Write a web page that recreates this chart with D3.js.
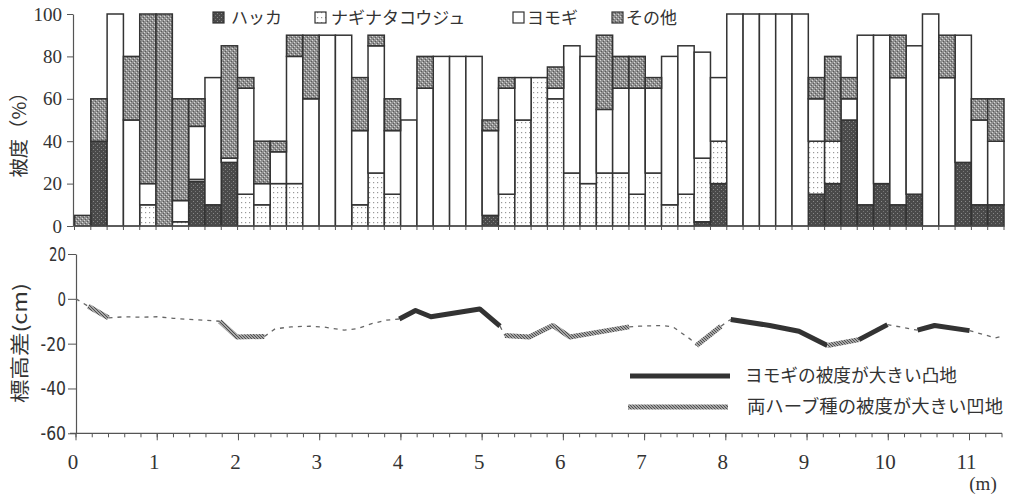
<!DOCTYPE html>
<html>
<head>
<meta charset="utf-8">
<script src="https://cdn.jsdelivr.net/npm/d3@7"></script>
<style>
  html, body { margin: 0; padding: 0; background: #fff; }
  svg { display: block; }
  .jp { font-family: "Noto Sans CJK JP", "Noto Sans", sans-serif; }
  .num { font-family: "Liberation Serif", "DejaVu Serif", serif; }
</style>
</head>
<body>
<svg id="chart" width="1009" height="497"></svg>
<script>
// ---- cover data: one bar per 0.2 m segment ----
const categories = ["0.0","0.2","0.4","0.6","0.8","1.0","1.2","1.4","1.6","1.8",
  "2.0","2.2","2.4","2.6","2.8","3.0","3.2","3.4","3.6","3.8",
  "4.0","4.2","4.4","4.6","4.8","5.0","5.2","5.4","5.6","5.8",
  "6.0","6.2","6.4","6.6","6.8","7.0","7.2","7.4","7.6","7.8",
  "8.0","8.2","8.4","8.6","8.8","9.0","9.2","9.4","9.6","9.8",
  "10.0","10.2","10.4","10.6","10.8","11.0","11.2"];

const seriesNames = ["ハッカ", "ナギナタコウジュ", "ヨモギ", "その他"];

const hakka   = [0,40,0,0,0,0,0,21,10,30, 0,0,0,0,0,0,0,0,0,0, 0,0,0,0,0,5,0,0,0,0,
                 0,0,0,0,0,0,0,0,2,20, 0,0,0,0,0,15,20,50,10,20, 10,15,0,0,30,10,10];
const nagi    = [0,0,0,0,10,0,2,1,0,0, 15,10,20,20,0,0,0,10,25,15, 0,0,0,0,0,0,15,50,70,60,
                 25,20,25,25,15,25,10,15,30,20, 0,0,0,0,0,25,20,0,0,0, 0,0,0,0,0,0,0];
const yomogi  = [0,0,100,50,10,0,10,25,60,2, 50,10,15,60,60,90,90,35,60,30, 50,65,80,80,80,40,50,20,0,5,
                 60,60,30,40,50,40,70,70,50,30, 100,100,100,100,100,20,0,10,80,70, 60,70,100,70,60,40,30];
const other   = [5,20,0,30,80,100,48,13,0,53, 5,20,5,10,30,0,0,25,5,15, 0,15,0,0,0,5,5,0,0,10,
                 0,0,35,15,15,5,0,0,0,0, 0,0,0,0,0,10,40,10,0,0, 20,0,0,20,0,10,20];

const coverTicks = [0, 20, 40, 60, 80, 100];

// ---- relative elevation profile (m, cm) ----
// kind = line style of the stretch that starts at the point:
// "n" ordinary, "c" mugwort-dominated mound, "v" hollow dominated by both herbs
const elevX = [0, 0.15, 0.4, 0.6, 0.8, 1.0, 1.2, 1.4, 1.6, 1.77, 1.98, 2.32, 2.45, 2.65, 2.88,
               3.05, 3.3, 3.45, 3.65, 3.82, 3.98, 4.18, 4.37, 4.97, 5.22, 5.28, 5.58, 5.87, 6.08,
               6.81, 6.94, 7.22, 7.35, 7.57, 7.64, 7.94, 8.06, 8.54, 8.9, 9.25, 9.64, 9.99,
               10.36, 10.57, 11.0, 11.32, 11.4];
const elevY = [0, -3.3, -8.5, -8, -8.2, -8, -8.7, -9.2, -9.6, -10, -17, -16.8, -13.4, -12.5, -12.2,
               -12.6, -14, -13.4, -11, -9.5, -9, -5.2, -8, -4.5, -12.2, -16.4, -17, -11.9, -17,
               -12.5, -12.2, -11.9, -12.5, -18.2, -20.8, -12.2, -9.2, -11.9, -14.5, -20.8, -18.2, -11.5,
               -14, -11.9, -14.2, -17.4, -16.7];
const elevKind = ["n","v","n","n","n","n","n","n","n","v","v","n","n","n","n",
                  "n","n","n","n","n","c","c","c","c","n","v","v","v","v",
                  "n","n","n","n","n","v","n","c","c","c","v","c","n",
                  "c","c","n","n",""];

const elevTicks = [20, 0, -20, -40, -60];
const distTicks = [0,1,2,3,4,5,6,7,8,9,10,11];

const legendProfile = ["ヨモギの被度が大きい凸地", "両ハーブ種の被度が大きい凹地"];

// ---- drawing ----
const svg = d3.select("#chart");
const ink = "#333";

// fill patterns
const defs = svg.append("defs");
const pHakka = defs.append("pattern").attr("id", "pHakka")
  .attr("patternUnits", "userSpaceOnUse").attr("width", 4).attr("height", 4);
pHakka.append("rect").attr("width", 4).attr("height", 4).attr("fill", "#4a4a4a");
pHakka.append("rect").attr("x", 1).attr("y", 1).attr("width", 1).attr("height", 1).attr("fill", "#8a8a8a");
pHakka.append("rect").attr("x", 3).attr("y", 3).attr("width", 1).attr("height", 1).attr("fill", "#777");

const pOther = defs.append("pattern").attr("id", "pOther")
  .attr("patternUnits", "userSpaceOnUse").attr("width", 4).attr("height", 4);
pOther.append("rect").attr("width", 4).attr("height", 4).attr("fill", "#909090");
pOther.append("rect").attr("x", 0).attr("y", 0).attr("width", 1).attr("height", 1).attr("fill", "#d6d6d6");
pOther.append("rect").attr("x", 2).attr("y", 2).attr("width", 1).attr("height", 1).attr("fill", "#d6d6d6");
pOther.append("rect").attr("x", 1).attr("y", 3).attr("width", 1).attr("height", 1).attr("fill", "#5a5a5a");
pOther.append("rect").attr("x", 3).attr("y", 1).attr("width", 1).attr("height", 1).attr("fill", "#5a5a5a");

const pNagi = defs.append("pattern").attr("id", "pNagi")
  .attr("patternUnits", "userSpaceOnUse").attr("width", 4).attr("height", 5);
pNagi.append("rect").attr("width", 4).attr("height", 5).attr("fill", "#fff");
pNagi.append("rect").attr("x", 1).attr("y", 2).attr("width", 1.2).attr("height", 1.2).attr("fill", "#999");

const pHatch = defs.append("pattern").attr("id", "pHatch")
  .attr("patternUnits", "userSpaceOnUse").attr("width", 3).attr("height", 3);
pHatch.append("rect").attr("width", 3).attr("height", 3).attr("fill", "#d0d0d0");
pHatch.append("path").attr("d", "M-1,-1 L4,4 M-1,2 L1,4 M2,-1 L4,1")
  .attr("stroke", "#4a4a4a").attr("stroke-width", 1.2);

const fills = ["url(#pHakka)", "url(#pNagi)", "#fff", "url(#pOther)"];

// ===== top: stacked cover bars =====
const xBand = d3.scaleBand().domain(categories).range([74.5, 1004]).padding(0);
const yCover = d3.scaleLinear().domain([0, 100]).range([226, 14]);

const rows = categories.map((c, i) => ({
  cat: c, h: hakka[i], n: nagi[i], y: yomogi[i], o: other[i]
}));
const stack = d3.stack().keys(["h", "n", "y", "o"]);
const layers = stack(rows);

svg.append("g").selectAll("g").data(layers).join("g")
  .attr("fill", (d, i) => fills[i])
  .selectAll("rect")
  .data(d => d.filter(s => s[1] - s[0] > 0))
  .join("rect")
  .attr("x", d => xBand(d.data.cat))
  .attr("width", xBand.bandwidth())
  .attr("y", d => yCover(d[1]))
  .attr("height", d => yCover(d[0]) - yCover(d[1]))
  .attr("stroke", ink).attr("stroke-width", 1.5);

// top axes
const gTopY = svg.append("g").attr("transform", "translate(73,0)")
  .call(d3.axisLeft(yCover).tickValues(coverTicks).tickSize(6).tickPadding(5).tickSizeOuter(0));
gTopY.select(".domain").attr("stroke", "#555").attr("stroke-width", 1.2);
gTopY.selectAll(".tick line").attr("stroke", "#555");
gTopY.selectAll("text").attr("class", "num").attr("font-size", 19).attr("fill", "#333");

svg.append("line").attr("x1", 73).attr("x2", 1004).attr("y1", 226).attr("y2", 226)
  .attr("stroke", "#555").attr("stroke-width", 1.2);
svg.append("g").selectAll("line")
  .data(categories.concat(["end"]))
  .join("line")
  .attr("x1", d => d === "end" ? 1004 : xBand(d))
  .attr("x2", d => d === "end" ? 1004 : xBand(d))
  .attr("y1", 226).attr("y2", 230)
  .attr("stroke", "#555");

svg.append("text").attr("class", "jp")
  .attr("transform", "translate(26,130) rotate(-90)")
  .attr("text-anchor", "middle").attr("font-size", 19).attr("fill", "#333")
  .attr("textLength", 95).attr("lengthAdjust", "spacingAndGlyphs")
  .text("被度（%）");

// cover legend
const legendX = [213, 315, 513, 612];
const legendTextX = [231, 331, 527, 626];
const lg = svg.append("g");
seriesNames.forEach((name, i) => {
  lg.append("rect").attr("x", legendX[i]).attr("y", 12).attr("width", 11).attr("height", 11)
    .attr("fill", fills[i]).attr("stroke", ink).attr("stroke-width", 1.2);
  lg.append("text").attr("class", "jp").attr("x", legendTextX[i]).attr("y", 24)
    .attr("font-size", 17).attr("fill", "#333").text(name);
});

// ===== bottom: elevation profile =====
const xDist = d3.scaleLinear().domain([0, 11.4]).range([76, 1002]);
const yElev = d3.scaleLinear().domain([-60, 20]).range([433.3, 254]);

const gBotY = svg.append("g").attr("transform", "translate(76,0)")
  .call(d3.axisLeft(yElev).tickValues(elevTicks).tickSize(8).tickPadding(2).tickSizeOuter(0)
    .tickFormat(d => d < 0 ? "-" + Math.abs(d) : d));
gBotY.select(".domain").attr("stroke", "#555").attr("stroke-width", 1.2);
gBotY.selectAll(".tick line").attr("stroke", "#555");
gBotY.selectAll("text")
  .attr("font-family", "'Liberation Sans Narrow', 'DejaVu Sans Condensed', 'Liberation Sans', sans-serif")
  .attr("font-size", 20).attr("fill", "#333")
  .attr("textLength", d => String(d < 0 ? "-" + Math.abs(d) : d).length * 8.5)
  .attr("lengthAdjust", "spacingAndGlyphs");

const gBotX = svg.append("g").attr("transform", "translate(0,433.3)");
gBotX.append("line").attr("x1", 70).attr("x2", 1002).attr("stroke", "#555").attr("stroke-width", 1.2);
const minorTicks = d3.range(0, 57 + 1).map(k => k * 0.2);
gBotX.selectAll("line.minor").data(minorTicks).join("line").attr("class", "minor")
  .attr("x1", d => xDist(d)).attr("x2", d => xDist(d))
  .attr("y1", 0).attr("y2", 4).attr("stroke", "#555");
gBotX.selectAll("line.major").data(distTicks).join("line").attr("class", "major")
  .attr("x1", d => xDist(d)).attr("x2", d => xDist(d))
  .attr("y1", 0).attr("y2", 7).attr("stroke", "#555");
gBotX.selectAll("text").data(distTicks).join("text").attr("class", "num")
  .attr("x", d => xDist(d) - 3).attr("y", 36)
  .attr("text-anchor", "middle").attr("font-size", 21).attr("fill", "#333")
  .text(d => d);

svg.append("text").attr("class", "num").attr("x", 983).attr("y", 490)
  .attr("text-anchor", "middle").attr("font-size", 19).attr("fill", "#333").text("(m)");

svg.append("text").attr("class", "jp")
  .attr("transform", "translate(27,343) rotate(-90)")
  .attr("text-anchor", "middle").attr("font-size", 19).attr("fill", "#333")
  .attr("textLength", 120).attr("lengthAdjust", "spacingAndGlyphs")
  .text("標高差(cm)");

// profile segments, grouped into runs of the same style
const pts = elevX.map((x, i) => ({ x, y: elevY[i], k: elevKind[i] }));
const runs = [];
for (let i = 0; i < pts.length - 1; i++) {
  const k = pts[i].k;
  const last = runs[runs.length - 1];
  if (last && last.k === k) last.p.push(pts[i + 1]);
  else runs.push({ k, p: [pts[i], pts[i + 1]] });
}
const line = d3.line().x(d => xDist(d.x)).y(d => yElev(d.y));
const styleOf = {
  n: { stroke: "#666", width: 1.3, dash: "4,5" },
  c: { stroke: "#333", width: 5, dash: null },
  v: { stroke: "url(#pHatch)", width: 5, dash: null }
};
svg.append("g").selectAll("path").data(runs).join("path")
  .attr("d", d => line(d.p))
  .attr("fill", "none")
  .attr("stroke", d => styleOf[d.k].stroke)
  .attr("stroke-width", d => styleOf[d.k].width)
  .attr("stroke-dasharray", d => styleOf[d.k].dash)
  .attr("stroke-linejoin", "round");

// profile legend
const plg = svg.append("g");
plg.append("line").attr("x1", 630).attr("x2", 730).attr("y1", 376).attr("y2", 376)
  .attr("stroke", "#333").attr("stroke-width", 5);
plg.append("line").attr("x1", 628).attr("x2", 728).attr("y1", 407).attr("y2", 407)
  .attr("stroke", "url(#pHatch)").attr("stroke-width", 5);
plg.append("text").attr("class", "jp").attr("x", 745).attr("y", 382)
  .attr("font-size", 18).attr("fill", "#333")
  .attr("textLength", 212).attr("lengthAdjust", "spacingAndGlyphs").text(legendProfile[0]);
plg.append("text").attr("class", "jp").attr("x", 747).attr("y", 413)
  .attr("font-size", 18).attr("fill", "#333")
  .attr("textLength", 256).attr("lengthAdjust", "spacingAndGlyphs").text(legendProfile[1]);
</script>
</body>
</html>
